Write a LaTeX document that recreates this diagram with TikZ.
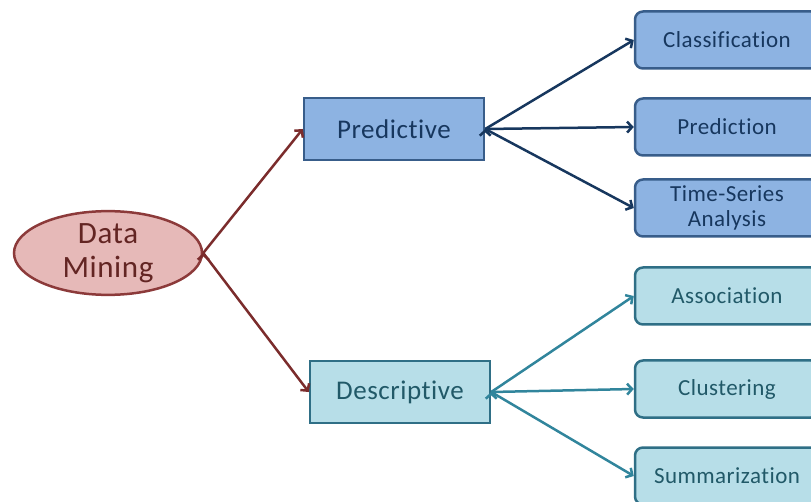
\documentclass[tikz,border=0pt]{standalone}
\usepackage{fontspec}
\setmainfont{Carlito}[Ligatures=NoCommon,LetterSpace=2]
\usepackage{xcolor}
\usetikzlibrary{positioning,arrows.meta,shapes.geometric}

\definecolor{dmfill}{HTML}{E6B9B8}
\definecolor{dmdraw}{HTML}{8C3A3A}
\definecolor{dmtext}{HTML}{632523}
\definecolor{dmline}{HTML}{7B2C2C}
\definecolor{predfill}{HTML}{8DB3E2}
\definecolor{preddraw}{HTML}{385D8A}
\definecolor{predtext}{HTML}{17375E}
\definecolor{descfill}{HTML}{B7DEE8}
\definecolor{descdraw}{HTML}{2F6F86}
\definecolor{desctext}{HTML}{215968}
\definecolor{descline}{HTML}{31859C}

\begin{document}
\begin{tikzpicture}[x=1pt,y=1pt,line width=2.5pt,
  >={Straight Barb[length=5pt,width=11pt]}]
  \tikzstyle{root}=[ellipse,draw=dmdraw,fill=dmfill,text=dmtext,
    minimum width=188pt,minimum height=78pt,inner sep=0pt,align=center,
    font=\fontsize{31}{34}\selectfont]
  \tikzstyle{branch}=[rectangle,minimum width=180pt,minimum height=62pt,
    font=\fontsize{27}{30}\selectfont]
  \tikzstyle{leaf}=[rectangle,rounded corners=8pt,minimum width=184pt,
    minimum height=57pt,align=center,font=\fontsize{23}{25}\selectfont]
  \tikzstyle{pred}=[draw=preddraw,fill=predfill,text=predtext]
  \tikzstyle{desc}=[draw=descdraw,fill=descfill,text=desctext]

  \useasboundingbox (0,0) rectangle (811,501);
  \clip (0,0) rectangle (811,501);

  \node[root]        (dm)   at (108,248) {Data\\Mining};
  \node[branch,pred] (pred) at (394,372) {Predictive};
  \node[branch,desc] (desc) at (400,109) {Descriptive};

  \node[leaf,pred] (cls) at (727,461)                       {Classification};
  \node[leaf,pred] (prd) [below of=cls,node distance=87pt]  {Prediction};
  \node[leaf,pred] (tsa) [below of=prd,node distance=81pt]  {Time-Series\\Analysis};
  \node[leaf,desc] (asc) [below of=tsa,node distance=88pt]  {Association};
  \node[leaf,desc] (clu) [below of=asc,node distance=93pt]  {Clustering};
  \node[leaf,desc] (sum) [below of=clu,node distance=87pt]  {Summarization};

  \path[->,draw=dmline]
  (dm.east) edge (pred.west)
            edge (desc.west);
  \path[->,draw=predtext]
  (pred.east) edge (cls.west)
              edge (prd.west)
              edge (tsa.west);
  \path[->,draw=descline]
  (desc.east) edge (asc.west)
              edge (clu.west)
              edge (sum.west);
\end{tikzpicture}
\end{document}
